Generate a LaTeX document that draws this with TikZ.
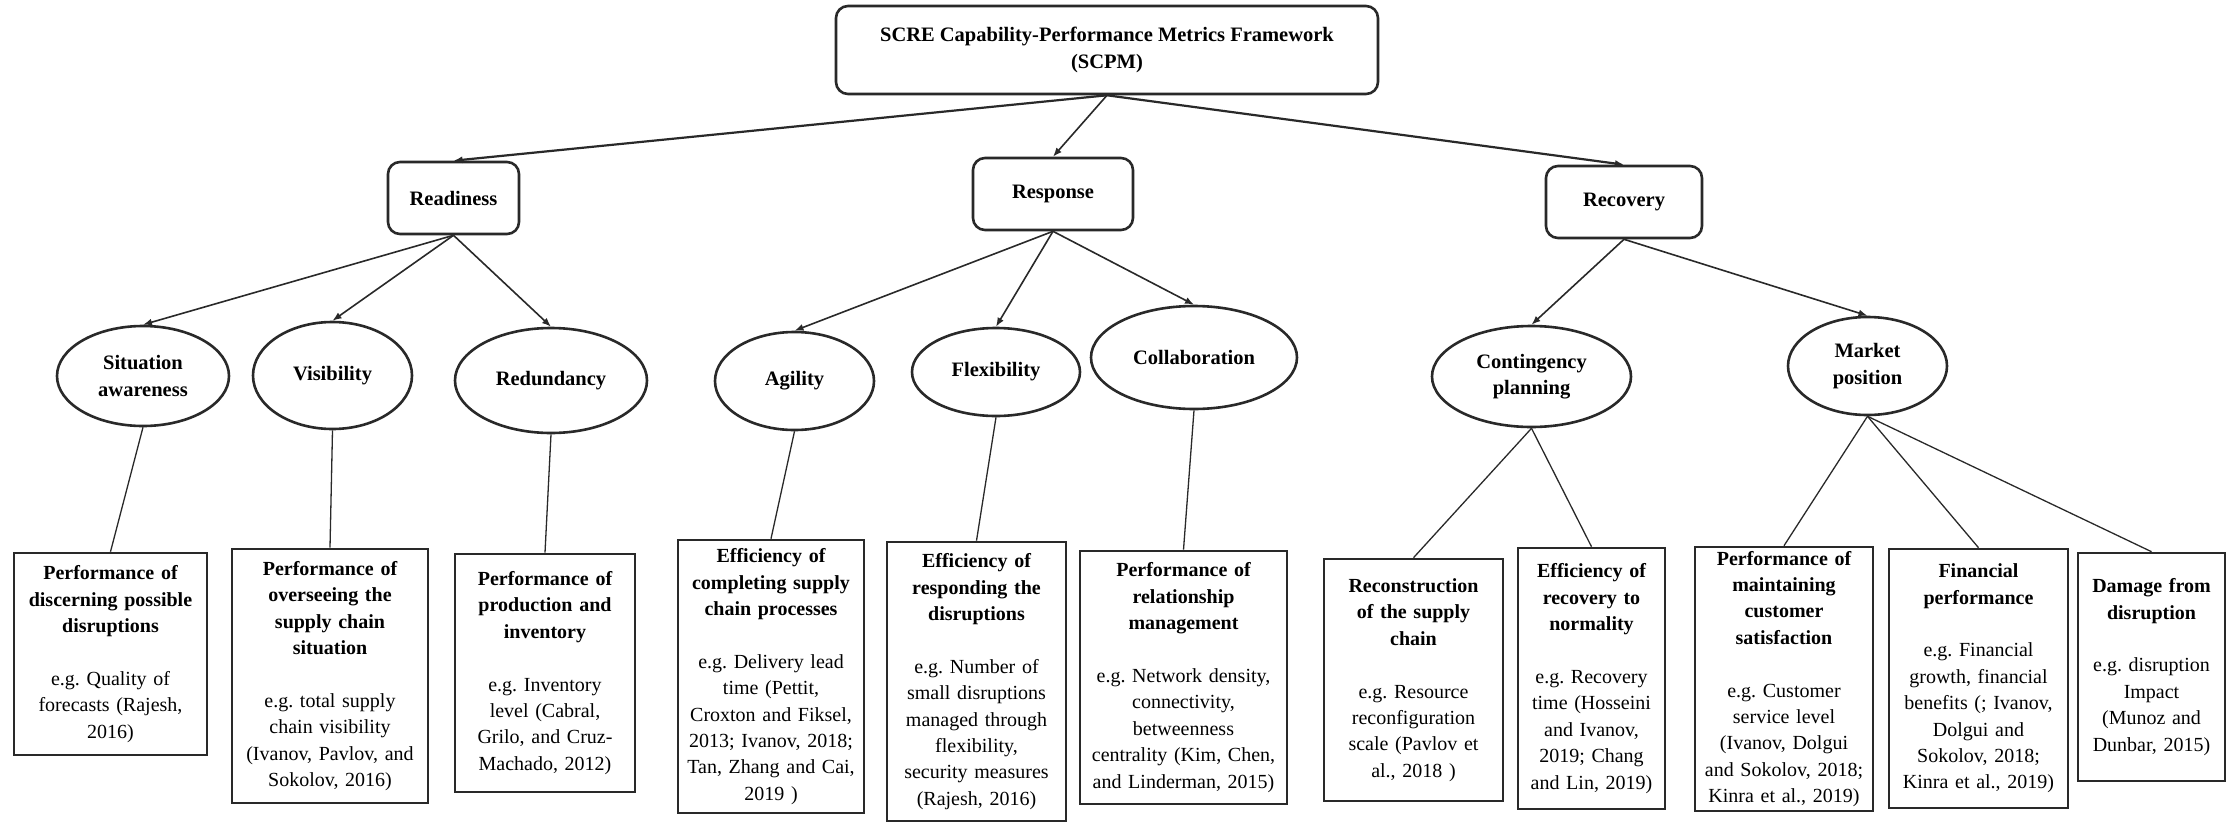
\documentclass[tikz,border=0pt]{standalone}
\usepackage{fontspec}
\setmainfont{Liberation Serif}
\usepackage{tikz}
\definecolor{darkgrey}{rgb}{0.16,0.16,0.16}
\usetikzlibrary{arrows.meta,shapes.geometric}

\begin{document}
\begin{tikzpicture}[x=1pt,y=-1pt,
        framebox/.style={draw=darkgrey,line width=2.6pt,rounded corners=12pt,align=center,inner sep=0pt,
                         font=\fontsize{20.5}{27}\selectfont\bfseries},
        capab/.style={ellipse,draw=darkgrey,line width=2.6pt,align=center,inner sep=0pt,
                      font=\fontsize{20.5}{26.7}\selectfont\bfseries},
        metric/.style={draw=darkgrey,line width=2.6pt,align=center,inner sep=3pt,
                       font=\fontsize{20}{26.4}\selectfont},
        toparrow/.style={darkgrey,line width=2.2pt,-{Latex[length=9pt,width=7pt]}},
        midarrow/.style={darkgrey,line width=1.6pt,-{Latex[length=9pt,width=7pt]}},
        link/.style={darkgrey,line width=1.3pt}]

           \useasboundingbox (0,0) rectangle (2228,822);

           \node [framebox,minimum width=542pt,minimum height=88pt] (scpm) at (1107,50)
                 {SCRE Capability-Performance Metrics Framework\\(SCPM)};

           \node [framebox,minimum width=131pt,minimum height=72pt] (readiness) at (453.5,198) {Readiness};
           \node [framebox,minimum width=160pt,minimum height=72pt] (response) at (1053,194) {Response};
           \node [framebox,minimum width=156pt,minimum height=72pt] (recovery) at (1624,202) {Recovery};

           \draw [toparrow] (scpm.south) -- (readiness.north);
           \draw [midarrow] (scpm.south) -- (response.north);
           \draw [toparrow] (scpm.south) -- (recovery.north);

           \node [capab,minimum width=172pt,minimum height=100pt] (situation) at (143,376) {Situation\\awareness};
           \node [capab,minimum width=159pt,minimum height=107pt] (visibility) at (332.5,375.5) {Visibility};
           \node [capab,minimum width=192pt,minimum height=105pt] (redundancy) at (551,380.5) {Redundancy};
           \node [capab,minimum width=159pt,minimum height=98pt] (agility) at (794.5,381) {Agility};
           \node [capab,minimum width=168pt,minimum height=88pt] (flexibility) at (996,372) {Flexibility};
           \node [capab,minimum width=206pt,minimum height=103pt] (collaboration) at (1194,357.5) {Collaboration};
           \node [capab,minimum width=199pt,minimum height=101pt] (contingency) at (1531.5,376.5) {Contingency\\planning};
           \node [capab,minimum width=159pt,minimum height=98pt] (market) at (1867.5,366) {Market\\position};

           \draw [midarrow] (readiness.south) -- (situation.north);
           \draw [midarrow] (readiness.south) -- (visibility.north);
           \draw [midarrow] (readiness.south) -- (redundancy.north);
           \draw [midarrow] (response.south) -- (agility.north);
           \draw [midarrow] (response.south) -- (flexibility.north);
           \draw [midarrow] (response.south) -- (collaboration.north);
           \draw [midarrow] (recovery.south) -- (contingency.north);
           \draw [midarrow] (recovery.south) -- (market.north);

           \node [metric,minimum width=193pt,minimum height=202pt,text width=187pt] (discern) at (110.5,654)
                 {{\bfseries Performance of\\discerning possible\\disruptions}\\[26.4pt]
                  e.g.\ Quality of\\forecasts (Rajesh,\\2016)};
           \node [metric,minimum width=196pt,minimum height=254pt,text width=190pt] (oversee) at (330,676)
                 {{\bfseries Performance of\\overseeing the\\supply chain\\situation}\\[26.4pt]
                  e.g.\ total supply\\chain visibility\\(Ivanov, Pavlov, and\\Sokolov, 2016)};
           \node [metric,minimum width=180pt,minimum height=238pt,text width=174pt] (production) at (545,673)
                 {{\bfseries Performance of\\production and\\inventory}\\[26.4pt]
                  e.g.\ Inventory\\level (Cabral,\\Grilo, and Cruz-\\Machado, 2012)};
           \node [metric,minimum width=186pt,minimum height=273pt,text width=180pt] (completing) at (771,676.5)
                 {{\bfseries Efficiency of\\completing supply\\chain processes}\\[26.4pt]
                  e.g.\ Delivery lead\\time (Pettit,\\Croxton and Fiksel,\\2013; Ivanov, 2018;\\Tan, Zhang and Cai,\\2019 )};
           \node [metric,minimum width=179pt,minimum height=279pt,text width=173pt] (responding) at (976.5,681.5)
                 {{\bfseries Efficiency of\\responding the\\disruptions}\\[26.4pt]
                  e.g.\ Number of\\small disruptions\\managed through\\flexibility,\\security measures\\(Rajesh, 2016)};
           \node [metric,minimum width=207pt,minimum height=253pt,text width=201pt] (relationship) at (1183.5,677.5)
                 {{\bfseries Performance of\\relationship\\management}\\[26.4pt]
                  e.g.\ Network density,\\connectivity,\\betweenness\\centrality (Kim, Chen,\\and Linderman, 2015)};
           \node [metric,minimum width=179pt,minimum height=242pt,text width=173pt] (reconstruct) at (1413.5,680)
                 {{\bfseries Reconstruction\\of the supply\\chain}\\[26.4pt]
                  e.g.\ Resource\\reconfiguration\\scale (Pavlov et\\al., 2018 )};
           \node [metric,minimum width=147pt,minimum height=261pt,text width=141pt] (normality) at (1591.5,678.5)
                 {{\bfseries Efficiency of\\recovery to\\normality}\\[26.4pt]
                  e.g.\ Recovery\\time (Hosseini\\and Ivanov,\\2019; Chang\\and Lin, 2019)};
           \node [metric,minimum width=178pt,minimum height=264pt,text width=172pt] (satisfaction) at (1784,679)
                 {{\bfseries Performance of\\maintaining\\customer\\satisfaction}\\[26.4pt]
                  e.g.\ Customer\\service level\\(Ivanov, Dolgui\\and Sokolov, 2018;\\Kinra et al., 2019)};
           \node [metric,minimum width=179pt,minimum height=259pt,text width=173pt] (financial) at (1978.5,678.5)
                 {{\bfseries Financial\\performance}\\[26.4pt]
                  e.g.\ Financial\\growth, financial\\benefits (; Ivanov,\\Dolgui and\\Sokolov, 2018;\\Kinra et al., 2019)};
           \node [metric,minimum width=147pt,minimum height=228pt,text width=141pt] (damage) at (2151.5,667)
                 {{\bfseries Damage from\\disruption}\\[26.4pt]
                  e.g.\ disruption\\Impact\\(Munoz and\\Dunbar, 2015)};

           \draw [link] (situation.south) -- (discern.north);
           \draw [link] (visibility.south) -- (oversee.north);
           \draw [link] (redundancy.south) -- (production.north);
           \draw [link] (agility.south) -- (completing.north);
           \draw [link] (flexibility.south) -- (responding.north);
           \draw [link] (collaboration.south) -- (relationship.north);
           \draw [link] (contingency.south) -- (reconstruct.north);
           \draw [link] (contingency.south) -- (normality.north);
           \draw [link] (market.south) -- (satisfaction.north);
           \draw [link] (market.south) -- (financial.north);
           \draw [link] (market.south) -- (damage.north);

\end{tikzpicture}
\end{document}
